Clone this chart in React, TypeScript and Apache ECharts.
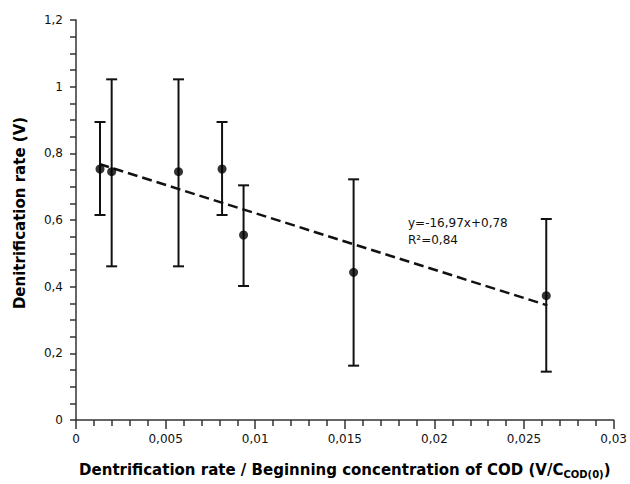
import React, { useEffect, useRef } from "react";
import * as echarts from "echarts";

const xValues = [0.00134, 0.00199, 0.00572, 0.00815, 0.00935, 0.01549, 0.02624];
const yValues = [0.753, 0.745, 0.745, 0.753, 0.555, 0.443, 0.373];
const errLow = [0.615, 0.461, 0.461, 0.615, 0.402, 0.163, 0.145];
const errHigh = [0.894, 1.022, 1.022, 0.894, 0.704, 0.722, 0.603];
const trendX = [0.0013, 0.0263];
const trendY = [0.768, 0.344];
const equationLines = ["y=-16,97x+0,78", "R²=0,84"];
const yTitle = "Denitrification rate (V)";

const FONT = "DejaVu Sans";

function fmt(v: number) {
  return String(v).replace(".", ",");
}

export default function App() {
  const ref = useRef<HTMLDivElement>(null);
  useEffect(() => {
    if (!ref.current) return;
    const chart = echarts.init(ref.current, null, { renderer: "svg" });
    const points = xValues.map((x, i) => [x, yValues[i]]);
    const errs = xValues.map((x, i) => [x, errLow[i], errHigh[i]]);
    const trend = trendX.map((x, i) => [x, trendY[i]]);
    const axisColor = "#333";
    chart.setOption({
      animation: false,
      backgroundColor: "#fff",
      textStyle: { fontFamily: FONT },
      grid: { left: 76, right: 11, top: 20, bottom: 60, containLabel: false },
      xAxis: {
        type: "value",
        min: 0,
        max: 0.03,
        interval: 0.005,
        splitLine: { show: false },
        axisLine: { show: true, onZero: false, lineStyle: { color: axisColor, width: 1.5 } },
        axisTick: { show: true, length: 9, lineStyle: { color: axisColor, width: 1.5 } },
        minorTick: { show: true, splitNumber: 5, length: 6, lineStyle: { color: axisColor, width: 1.5 } },
        axisLabel: { color: "#111", fontSize: 12, fontFamily: FONT, margin: 13, formatter: (v: number) => fmt(+v.toFixed(3)) },
        name: "{m|Dentrification rate / Beginning concentration of COD (V/C}{s|COD(0)}{m|)}",
        nameLocation: "middle",
        nameGap: 41,
        nameTextStyle: {
          rich: {
            m: { fontSize: 15, fontWeight: "bold", fontFamily: FONT, color: "#000" },
            s: { fontSize: 10, fontWeight: "bold", fontFamily: FONT, color: "#000", padding: [8, 0, 0, 0] },
          },
        },
      },
      yAxis: {
        type: "value",
        min: 0,
        max: 1.2,
        interval: 0.2,
        splitLine: { show: false },
        axisLine: { show: true, onZero: false, lineStyle: { color: axisColor, width: 1.5 } },
        axisTick: { show: true, length: 6, lineStyle: { color: axisColor, width: 1.5 } },
        minorTick: { show: true, splitNumber: 4, length: 6, lineStyle: { color: axisColor, width: 1.5 } },
        axisLabel: { color: "#111", fontSize: 12, fontFamily: FONT, margin: 13, formatter: (v: number) => fmt(+v.toFixed(1)) },
      },
      graphic: [
        {
          type: "text",
          x: 20,
          y: 213,
          rotation: Math.PI / 2,
          style: {
            text: yTitle,
            fontSize: 15,
            fontWeight: "bold",
            fontFamily: FONT,
            fill: "#000",
            align: "center",
            verticalAlign: "middle",
          },
        },
        {
          type: "text",
          left: 408,
          top: 214,
          style: {
            text: equationLines.join("\n"),
            fontSize: 12,
            fontFamily: FONT,
            fill: "#111",
            lineHeight: 17,
          },
        },
      ],
      series: [
        {
          type: "line",
          data: trend,
          symbol: "none",
          lineStyle: { color: "#111", width: 2.5, type: [10, 5] },
          z: 2,
        },
        {
          type: "custom",
          data: errs,
          renderItem: (params: any, api: any) => {
            const x = api.value(0);
            const lo = api.coord([x, api.value(1)]);
            const hi = api.coord([x, api.value(2)]);
            const hw = 5.5;
            const style = { stroke: "#111", lineWidth: 2 };
            return {
              type: "group",
              children: [
                { type: "line", shape: { x1: lo[0], y1: lo[1], x2: hi[0], y2: hi[1] }, style },
                { type: "line", shape: { x1: lo[0] - hw, y1: lo[1], x2: lo[0] + hw, y2: lo[1] }, style },
                { type: "line", shape: { x1: hi[0] - hw, y1: hi[1], x2: hi[0] + hw, y2: hi[1] }, style },
              ],
            };
          },
          encode: { x: 0, y: [1, 2] },
          z: 3,
        },
        {
          type: "scatter",
          data: points,
          symbol: "circle",
          symbolSize: 9,
          itemStyle: { color: "#000" },
          z: 4,
        },
      ],
    });
    return () => chart.dispose();
  }, []);
  return (
    <div style={{ position: "fixed", left: 0, top: 0 }}>
      <div ref={ref} style={{ width: 630, height: 484 }} />
    </div>
  );
}
